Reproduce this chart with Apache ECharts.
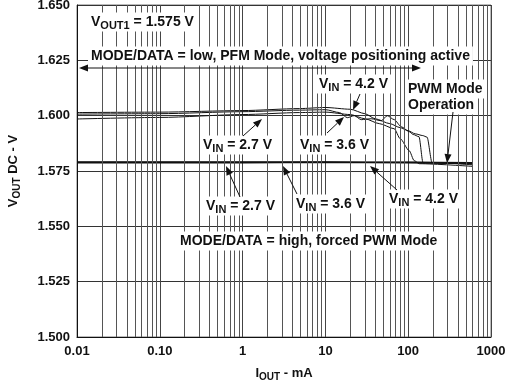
<!DOCTYPE html>
<html><head><meta charset="utf-8">
<script src="https://cdn.jsdelivr.net/npm/echarts@6/dist/echarts.min.js"></script>
<style>html,body{margin:0;padding:0;background:#fff}#c{width:513px;height:387px}</style>
</head><body><div id="c"></div>
<script>
// ---- data ----
const xTickLabels = ['0.01', '0.10', '1', '10', '100', '1000'];
const yTicks = [1.500, 1.525, 1.550, 1.575, 1.600, 1.625, 1.650];

// PFM mode (MODE/DATA = low)
const pfm27_I = [0.01, 0.1, 1, 4.86, 10, 20, 30, 44.8, 67.8, 80, 102.8, 118, 136, 600];
const pfm27_V = [1.5985, 1.5992, 1.6005, 1.6014, 1.6016, 1.6005, 1.5986, 1.5964, 1.5941, 1.5896, 1.5842, 1.5797, 1.5783, 1.5771];
const pfm36_I = [0.01, 0.1, 1, 4.86, 10, 14.8, 18.4, 22.3, 27.1, 35.8, 47.3, 55.8, 67.8, 82.3, 102.8, 114.8, 135, 151, 600];
const pfm36_V = [1.6007, 1.6009, 1.6018, 1.6025, 1.6027, 1.6014, 1.5991, 1.6000, 1.5982, 1.5986, 1.5977, 1.6000, 1.5982, 1.5950, 1.5928, 1.5915, 1.5905, 1.5787, 1.5781];
const pfm42_I = [0.01, 0.1, 1, 4.86, 10, 20, 30, 40, 60, 80, 100, 121.4, 150, 169, 194, 300, 600];
const pfm42_V = [1.6014, 1.6016, 1.6023, 1.6032, 1.6037, 1.6029, 1.6009, 1.5986, 1.5964, 1.5946, 1.5932, 1.5918, 1.5910, 1.5903, 1.5788, 1.5785, 1.5778];

// forced PWM mode (MODE/DATA = high)
const pwm_I = [0.01, 1, 10, 100, 600];
const pwm27_V = [1.5787, 1.5787, 1.5788, 1.5787, 1.5784];
const pwm36_V = [1.5789, 1.5789, 1.5790, 1.5789, 1.5786];
const pwm42_V = [1.5791, 1.5791, 1.5791, 1.5790, 1.5788];

// minor log grid positions (2..9 in each decade)
const decades = [0.01, 0.1, 1, 10, 100];
const multipliers = [2, 3, 4, 5, 6, 7, 8, 9];
const minorGrid = [];
decades.forEach(d => multipliers.forEach(m => minorGrid.push(+(d * m).toPrecision(3))));

const zip = (a, b) => a.map((v, i) => [v, b[i]]);
const FONT = 'Liberation Sans, Arial, sans-serif';

const chart = echarts.init(document.getElementById('c'), null, {renderer: 'canvas'});

function lineSeries(name, I, V, w) {
  return {
    name, type: 'line', data: zip(I, V), showSymbol: false, smooth: 0.25, smoothMonotone: 'x',
    lineStyle: {color: '#111', width: w}, z: 3, animation: false, silent: true
  };
}

const series = [
  {
    type: 'line', data: [], silent: true, animation: false, z: 1,
    markLine: {
      silent: true, animation: false, symbol: ['none', 'none'],
      label: {show: false},
      lineStyle: {color: '#555', width: 1, type: 'solid'},
      data: minorGrid.map(v => ({xAxis: v}))
    }
  },
  lineSeries('PFM 2.7', pfm27_I, pfm27_V, 1),
  lineSeries('PFM 3.6', pfm36_I, pfm36_V, 1),
  lineSeries('PFM 4.2', pfm42_I, pfm42_V, 1),
  lineSeries('PWM 2.7', pwm_I, pwm27_V, 1.2),
  lineSeries('PWM 3.6', pwm_I, pwm36_V, 1.2),
  lineSeries('PWM 4.2', pwm_I, pwm42_V, 1.2)
];

const bold = {fontFamily: FONT, fontWeight: 'bold', color: '#111'};
const richSub = {
  a: Object.assign({fontSize: 14, lineHeight: 19, verticalAlign: 'middle'}, bold),
  s: Object.assign({fontSize: 11, lineHeight: 11, verticalAlign: 'bottom'}, bold)
};
const richAxis = {
  a: Object.assign({fontSize: 13, lineHeight: 18, verticalAlign: 'middle'}, bold),
  s: Object.assign({fontSize: 10, lineHeight: 10, verticalAlign: 'bottom'}, bold)
};

function label(x, y, text, align) {
  return {
    type: 'text', x, y, z: 50, silent: true,
    style: {
      text, rich: richSub, fill: '#111', font: 'bold 14px ' + FONT,
      align: align || 'left', verticalAlign: 'middle',
      backgroundColor: '#fff', padding: [0, 3, 0, 3]
    }
  };
}
function arrow(x1, y1, x2, y2) {
  const ang = Math.atan2(y2 - y1, x2 - x1), L = 9, W = 3.5;
  const bx = x2 - L * Math.cos(ang), by = y2 - L * Math.sin(ang);
  const px = -Math.sin(ang) * W, py = Math.cos(ang) * W;
  return [
    {type: 'line', z: 60, silent: true, shape: {x1, y1, x2: bx, y2: by}, style: {stroke: '#111', lineWidth: 1}},
    {type: 'polygon', z: 60, silent: true, shape: {points: [[x2, y2], [bx + px, by + py], [bx - px, by - py]]}, style: {fill: '#111'}}
  ];
}

const graphic = [
  label(88, 22, '{a|V}{s|OUT1}{a| = 1.575 V}'),
  label(88, 56, '{a|MODE/DATA = low, PFM Mode, voltage positioning active}'),
  ...arrow(250, 68, 79, 68), ...arrow(250, 68, 421, 68),
  label(316, 84, '{a|V}{s|IN}{a| = 4.2 V}'),
  ...arrow(360, 94, 353, 110),
  label(405, 89, '{a|PWM Mode}'),
  label(405, 105, '{a|Operation}'),
  ...arrow(453, 112, 447, 163),
  label(200, 145, '{a|V}{s|IN}{a| = 2.7 V}'),
  ...arrow(243, 136, 262, 119),
  label(297, 145, '{a|V}{s|IN}{a| = 3.6 V}'),
  ...arrow(327, 133, 344, 117),
  label(203, 206, '{a|V}{s|IN}{a| = 2.7 V}'),
  ...arrow(240, 197, 226, 166),
  label(293, 204, '{a|V}{s|IN}{a| = 3.6 V}'),
  ...arrow(297, 194, 283, 166),
  label(386, 199, '{a|V}{s|IN}{a| = 4.2 V}'),
  ...arrow(397, 190, 370, 166),
  label(177, 241, '{a|MODE/DATA = high, forced PWM Mode}')
];

chart.setOption({
  animation: false,
  backgroundColor: '#fff',
  grid: {left: 77, right: 22, top: 5, bottom: 50, show: true, borderColor: '#777', borderWidth: 1,
         backgroundColor: 'transparent', containLabel: false, outerBoundsMode: 'none'},
  xAxis: {
    type: 'log', logBase: 10, min: 0.01, max: 1000,
    name: '{a|I}{s|OUT}{a| - mA}', nameLocation: 'middle', nameGap: 27,
    nameTextStyle: {rich: richAxis},
    axisLine: {show: true, onZero: false, lineStyle: {color: '#111', width: 1}},
    axisTick: {show: false},
    axisLabel: {
      color: '#111', fontFamily: FONT, fontWeight: 'bold', fontSize: 13, margin: 8,
      formatter: v => xTickLabels[Math.round(Math.log10(v)) + 2]
    },
    splitLine: {show: true, lineStyle: {color: '#444', width: 1}},
    minorTick: {show: false}, minorSplitLine: {show: false}
  },
  yAxis: {
    type: 'value', min: yTicks[0], max: yTicks[yTicks.length - 1], interval: 0.025,
    name: '{a|V}{s|OUT}{a| DC - V}', nameLocation: 'middle', nameGap: 55, nameRotate: 90,
    nameTextStyle: {rich: richAxis},
    axisLine: {show: true, lineStyle: {color: '#111', width: 1}},
    axisTick: {show: false},
    axisLabel: {color: '#111', fontFamily: FONT, fontWeight: 'bold', fontSize: 13, margin: 7, formatter: v => v.toFixed(3)},
    splitLine: {show: true, lineStyle: {color: '#333', width: 1}}
  },
  series,
  graphic
});
</script>
</body></html>
